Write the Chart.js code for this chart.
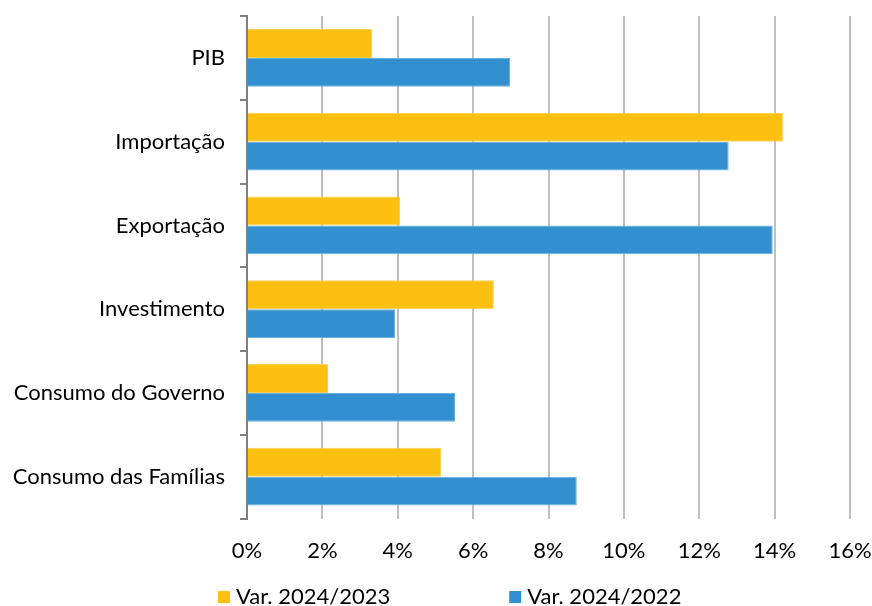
<!DOCTYPE html>
<html>
<head>
<meta charset="utf-8">
<script src="https://cdn.jsdelivr.net/npm/chart.js@4"></script>
<style>
html,body{margin:0;padding:0;background:#fff;}
#wrap{width:872px;height:606px;}
</style>
</head>
<body>
<div id="wrap"><canvas id="c" width="872" height="606"></canvas></div>
<script>
const categories = ["PIB", "Importação", "Exportação", "Investimento", "Consumo do Governo", "Consumo das Famílias"];
const var2024_2023 = [3.32, 14.22, 4.06, 6.55, 2.15, 5.15];
const var2024_2022 = [6.98, 12.78, 13.95, 3.93, 5.52, 8.75];
const seriesNames = ["Var. 2024/2023", "Var. 2024/2022"];
const xTicks = [0, 2, 4, 6, 8, 10, 12, 14, 16];

const FONT = "Lato, 'Open Sans', sans-serif";
const FONT_SIZE = 22;

const bottomLegend = {
  id: 'bottomLegend',
  afterDraw(chart) {
    const ctx = chart.ctx;
    ctx.save();
    ctx.font = FONT_SIZE + 'px ' + FONT;
    ctx.textBaseline = 'middle';
    ctx.textAlign = 'left';
    const box = 12, gapText = 6, gapItems = 119;
    const cy = 597;
    let x = 218;
    chart.data.datasets.forEach((ds) => {
      ctx.fillStyle = ds.backgroundColor;
      ctx.fillRect(x, cy - box / 2, box, box);
      ctx.fillStyle = '#000';
      const tx = x + box + gapText;
      ctx.fillText(ds.label, tx, cy);
      x = tx + ctx.measureText(ds.label).width + gapItems;
    });
    ctx.restore();
  }
};

new Chart(document.getElementById('c'), {
  type: 'bar',
  data: {
    labels: categories,
    datasets: [
      { label: seriesNames[0], data: var2024_2023, backgroundColor: '#FDC010', borderColor: '#FDD050', borderWidth: 1, categoryPercentage: 0.69, barPercentage: 1.0 },
      { label: seriesNames[1], data: var2024_2022, backgroundColor: '#3290D0', borderColor: '#66AEE0', borderWidth: 1, categoryPercentage: 0.69, barPercentage: 1.0 }
    ]
  },
  plugins: [bottomLegend],
  options: {
    indexAxis: 'y',
    responsive: false,
    animation: false,
    layout: { padding: { left: 0, right: 22, top: 16, bottom: 23 } },
    plugins: {
      tooltip: { enabled: false },
      legend: { display: false }
    },
    scales: {
      x: {
        min: 0, max: 16,
        afterBuildTicks: (s) => { s.ticks = xTicks.map(v => ({ value: v })); },
        afterFit: (s) => { s.paddingLeft = 0; s.paddingRight = 0; },
        ticks: {
          callback: (v) => v + '%',
          font: { family: FONT, size: FONT_SIZE },
          color: '#000',
          padding: 19,
          maxRotation: 0
        },
        grid: { color: '#BFBFBF', lineWidth: 2, drawTicks: false },
        border: { display: false }
      },
      y: {
        afterFit: (s) => { s.width = 247; s.paddingTop = 0; s.paddingBottom = 0; },
        ticks: {
          font: { family: FONT, size: FONT_SIZE },
          color: '#000',
          padding: 15
        },
        grid: { display: true, drawOnChartArea: false, offset: true, tickLength: 7, color: '#808080', lineWidth: 2 },
        border: { display: true, color: '#808080', width: 2 }
      }
    }
  }
});
</script>
</body>
</html>
